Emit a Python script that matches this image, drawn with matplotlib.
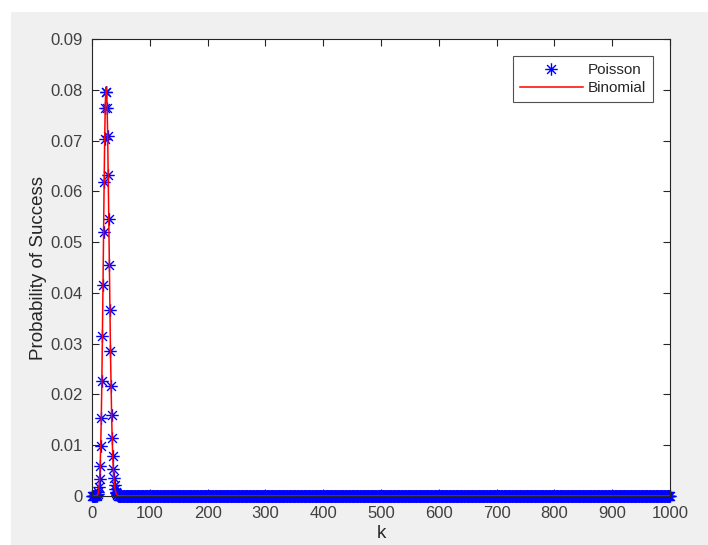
import numpy as np
import matplotlib
matplotlib.use("Agg")
import matplotlib.pyplot as plt
from matplotlib.patches import Rectangle
from matplotlib.path import Path

# Probability of k successes, k = 0..50 (values beyond k = 50 are zero at this scale)
k_peak = list(range(0, 51))
poisson_peak = [
    0.0, 0.0, 0.0, 0.0, 0.0, 0.000001, 0.000004, 0.00002, 0.00005, 0.00015,
    0.00036, 0.00083, 0.00173, 0.00332, 0.00593, 0.00989, 0.01545, 0.02273, 0.03157, 0.04153,
    0.05192, 0.06180, 0.07023, 0.07634, 0.07952, 0.07952, 0.07646, 0.07080, 0.06321, 0.05450,
    0.04541, 0.03662, 0.02861, 0.02168, 0.01594, 0.01139, 0.00791, 0.00534, 0.00351, 0.00225,
    0.00141, 0.00086, 0.00051, 0.00030, 0.00017, 0.00009, 0.00005, 0.00003, 0.00001, 0.00001,
    0.000003,
]
binomial_peak = [
    0.0, 0.0, 0.0, 0.0, 0.0, 0.000001, 0.000003, 0.00001, 0.00004, 0.00013,
    0.00032, 0.00076, 0.00159, 0.00310, 0.00561, 0.00947, 0.01495, 0.02220, 0.03108, 0.04118,
    0.05179, 0.06195, 0.07069, 0.07707, 0.08043, 0.08051, 0.07742, 0.07161, 0.06381, 0.05485,
    0.04552, 0.03653, 0.02837, 0.02134, 0.01557, 0.01102, 0.00757, 0.00505, 0.00328, 0.00207,
    0.00128, 0.00077, 0.00045, 0.00026, 0.00015, 0.00008, 0.00004, 0.00002, 0.00001, 0.000005,
    0.000002,
]
k_max = 1000

k = np.arange(0, k_max + 1)
poisson = np.zeros(k.size)
binomial = np.zeros(k.size)
poisson[:len(poisson_peak)] = poisson_peak
binomial[:len(binomial_peak)] = binomial_peak

x_ticks = list(range(0, 1001, 100))
y_ticks = [0, 0.01, 0.02, 0.03, 0.04, 0.05, 0.06, 0.07, 0.08, 0.09]
y_tick_labels = ["0", "0.01", "0.02", "0.03", "0.04", "0.05", "0.06", "0.07", "0.08", "0.09"]

plt.rcParams["font.family"] = ["Liberation Sans", "DejaVu Sans"]

# Eight-spoke asterisk marker (plus and cross overlaid)
d = np.sqrt(0.5)
asterisk = Path(
    [(-1, 0), (1, 0), (0, -1), (0, 1), (-d, -d), (d, d), (-d, d), (d, -d)],
    [Path.MOVETO, Path.LINETO] * 4,
)

W, H = 708, 545
fig = plt.figure(figsize=(W / 100, H / 100), dpi=100, facecolor="white")
fig.patches.append(Rectangle((11 / W, 0), 1 - 11 / W, 1 - 12 / H,
                             transform=fig.transFigure, facecolor="#f0f0f0",
                             edgecolor="none", zorder=-10))

ax_l, ax_r, ax_t, ax_b = 92, 670, 39, 496
ax = fig.add_axes([ax_l / W, 1 - ax_b / H, (ax_r - ax_l) / W, (ax_b - ax_t) / H])
ax.set_facecolor("white")

ax.plot(k, poisson, linestyle="none", marker=asterisk, color="blue",
        markersize=9, markeredgewidth=1.0, clip_on=False, label="Poisson")
ax.plot(k, binomial, color="red", linewidth=1.1, label="Binomial")

ax.set_xlim(0, k_max)
ax.set_ylim(0, 0.09)
ax.set_xticks(x_ticks)
ax.set_xticklabels([str(t) for t in x_ticks])
ax.set_yticks(y_ticks)
ax.set_yticklabels(y_tick_labels)

axis_color = "#262626"
for s in ax.spines.values():
    s.set_color(axis_color)
    s.set_linewidth(0.8)
ax.tick_params(direction="in", length=5, width=0.8, colors=axis_color,
               labelsize=12, top=True, right=True, pad=7)
for lab in ax.get_xticklabels() + ax.get_yticklabels():
    lab.set_color("#404040")

ax.set_xlabel("k", fontsize=13.5, color="#262626", labelpad=3)
ax.set_ylabel("Probability of Success", fontsize=13.5, color="#262626", labelpad=2)

leg = ax.legend(loc="upper right",
                bbox_to_anchor=((653 - ax_l) / (ax_r - ax_l), (ax_b - 56) / (ax_b - ax_t)),
                borderaxespad=0, fontsize=11, frameon=True, fancybox=False,
                handlelength=4.1, handletextpad=0.35, borderpad=0.45, labelspacing=0.3)
leg.get_frame().set_edgecolor(axis_color)
leg.get_frame().set_linewidth(0.8)
for t in leg.get_texts():
    t.set_color("#262626")

fig.savefig("out.png", dpi=100, facecolor=fig.get_facecolor())
